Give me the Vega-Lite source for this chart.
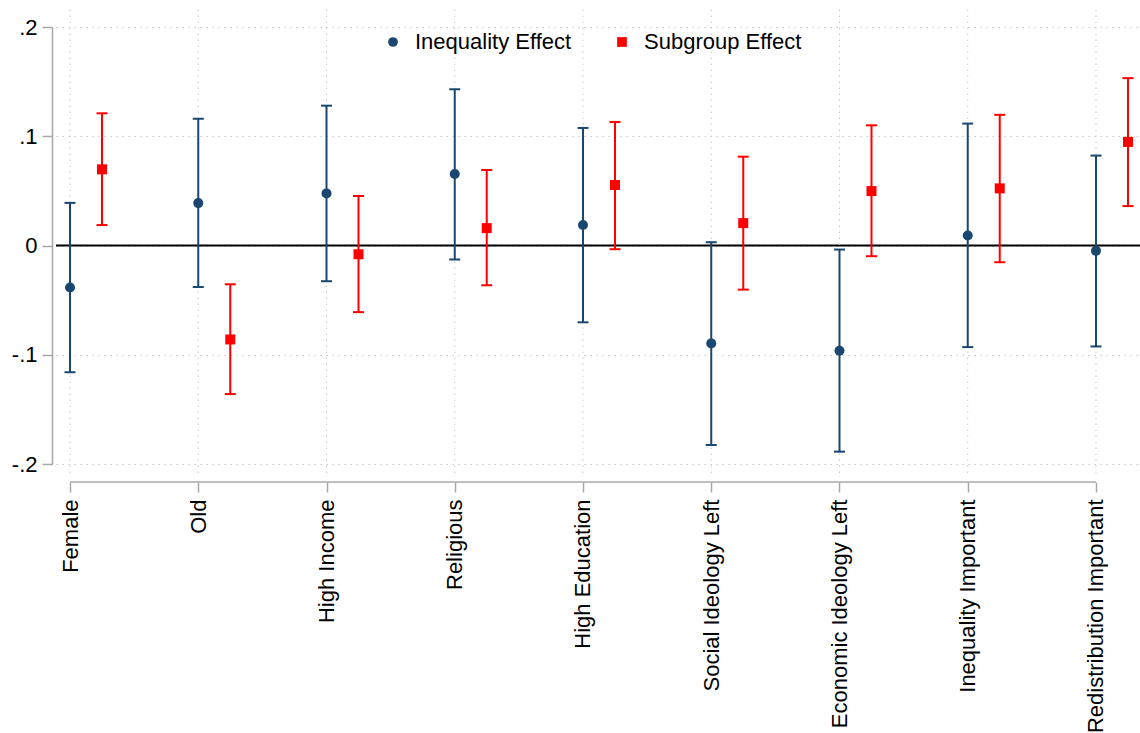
{
  "$schema": "https://vega.github.io/schema/vega-lite/v6.json",
  "autosize": {"type": "none"},
  "padding": {"left": 56, "top": 27, "right": 0, "bottom": 269},
  "width": 1084,
  "height": 437,
  "background": "white",
  "config": {"view": {"stroke": null}, "font": "Liberation Sans"},
  "datasets": {
    "est": [
      {"cat": "Female", "series": "Inequality Effect", "est": -0.0385, "lo": -0.116, "hi": 0.039},
      {"cat": "Female", "series": "Subgroup Effect", "est": 0.0697, "lo": 0.0187, "hi": 0.121},
      {"cat": "Old", "series": "Inequality Effect", "est": 0.0388, "lo": -0.038, "hi": 0.116},
      {"cat": "Old", "series": "Subgroup Effect", "est": -0.086, "lo": -0.136, "hi": -0.0355},
      {"cat": "High Income", "series": "Inequality Effect", "est": 0.0477, "lo": -0.0327, "hi": 0.128},
      {"cat": "High Income", "series": "Subgroup Effect", "est": -0.008, "lo": -0.061, "hi": 0.0453},
      {"cat": "Religious", "series": "Inequality Effect", "est": 0.0654, "lo": -0.0128, "hi": 0.143},
      {"cat": "Religious", "series": "Subgroup Effect", "est": 0.0159, "lo": -0.0364, "hi": 0.0691},
      {"cat": "High Education", "series": "Inequality Effect", "est": 0.0187, "lo": -0.0703, "hi": 0.1076},
      {"cat": "High Education", "series": "Subgroup Effect", "est": 0.0554, "lo": -0.0034, "hi": 0.113},
      {"cat": "Social Ideology Left", "series": "Inequality Effect", "est": -0.0896, "lo": -0.1826, "hi": 0.003},
      {"cat": "Social Ideology Left", "series": "Subgroup Effect", "est": 0.0205, "lo": -0.0404, "hi": 0.0813},
      {"cat": "Economic Ideology Left", "series": "Inequality Effect", "est": -0.0963, "lo": -0.1887, "hi": -0.0037},
      {"cat": "Economic Ideology Left", "series": "Subgroup Effect", "est": 0.0498, "lo": -0.0098, "hi": 0.110},
      {"cat": "Inequality Important", "series": "Inequality Effect", "est": 0.0092, "lo": -0.093, "hi": 0.1116},
      {"cat": "Inequality Important", "series": "Subgroup Effect", "est": 0.0523, "lo": -0.0153, "hi": 0.1196},
      {"cat": "Redistribution Important", "series": "Inequality Effect", "est": -0.0049, "lo": -0.0924, "hi": 0.0823},
      {"cat": "Redistribution Important", "series": "Subgroup Effect", "est": 0.0948, "lo": 0.0361, "hi": 0.1532}
    ]
  },
  "data": {"name": "est"},
  "layer": [
    {
      "transform": [{"filter": "datum.cat == 'Female' && datum.series == 'Inequality Effect'"}],
      "mark": {"type": "rule", "color": "black", "strokeWidth": 2},
      "encoding": {
        "y": {"datum": 0, "type": "quantitative", "scale": {"domain": [-0.2, 0.2], "nice": false, "zero": false}}
      }
    },
    {
      "encoding": {
        "x": {
          "field": "cat",
          "type": "nominal",
          "sort": null,
          "scale": {
            "type": "point",
            "domain": ["Female", "Old", "High Income", "Religious", "High Education", "Social Ideology Left", "Economic Ideology Left", "Inequality Important", "Redistribution Important"],
            "padding": 0.2262,
            "align": 0.2414
          },
          "axis": {
            "title": null,
            "labelAngle": -90,
            "labelFontSize": 22,
            "labelFont": "Liberation Sans",
            "labelColor": "black",
            "labelPadding": 7,
            "labelLimit": 0,
            "tickSize": 10,
            "tickColor": "#a8a8a8",
            "tickWidth": 1.5,
            "domain": false,
            "grid": false,
            "offset": 18
          }
        }
      },
      "layer": [
        {
          "transform": [{"filter": "datum.series == 'Inequality Effect'"}],
          "mark": {"type": "rule", "color": "#c8c8c8", "strokeWidth": 1, "strokeDash": [1.5, 4.5]},
          "encoding": {
            "y": {"datum": 0.216, "type": "quantitative"},
            "y2": {"datum": -0.21}
          }
        },
        {
          "transform": [{"filter": "datum.cat == 'Female' && datum.series == 'Inequality Effect'"}],
          "mark": {"type": "rule", "color": "#a8a8a8", "strokeWidth": 1.5},
          "encoding": {
            "x2": {"datum": "Redistribution Important"},
            "y": {"datum": -0.2165, "type": "quantitative"}
          }
        },
        {
          "mark": {"type": "rule", "strokeWidth": 2},
          "encoding": {
            "xOffset": {"field": "series", "type": "nominal", "scale": {"type": "point", "domain": ["Inequality Effect", "Subgroup Effect"], "range": [0, 32], "padding": 0}},
            "y": {"field": "lo", "type": "quantitative"},
            "y2": {"field": "hi"},
            "color": {"field": "series", "type": "nominal", "scale": {"domain": ["Inequality Effect", "Subgroup Effect"], "range": ["#1a476f", "#ff0000"]}}
          }
        },
        {
          "mark": {"type": "tick", "thickness": 2, "size": 11, "opacity": 1},
          "encoding": {
            "xOffset": {"field": "series", "type": "nominal", "scale": {"type": "point", "domain": ["Inequality Effect", "Subgroup Effect"], "range": [0, 32], "padding": 0}},
            "y": {"field": "lo", "type": "quantitative"},
            "color": {"field": "series", "type": "nominal", "scale": {"domain": ["Inequality Effect", "Subgroup Effect"], "range": ["#1a476f", "#ff0000"]}}
          }
        },
        {
          "mark": {"type": "tick", "thickness": 2, "size": 11, "opacity": 1},
          "encoding": {
            "xOffset": {"field": "series", "type": "nominal", "scale": {"type": "point", "domain": ["Inequality Effect", "Subgroup Effect"], "range": [0, 32], "padding": 0}},
            "y": {"field": "hi", "type": "quantitative"},
            "color": {"field": "series", "type": "nominal", "scale": {"domain": ["Inequality Effect", "Subgroup Effect"], "range": ["#1a476f", "#ff0000"]}}
          }
        },
        {
          "mark": {"type": "point", "filled": true, "opacity": 1, "size": 100},
          "encoding": {
            "xOffset": {"field": "series", "type": "nominal", "scale": {"type": "point", "domain": ["Inequality Effect", "Subgroup Effect"], "range": [0, 32], "padding": 0}},
            "y": {
              "field": "est",
              "type": "quantitative",
              "axis": {
                "title": null,
                "values": [-0.2, -0.1, 0, 0.1, 0.2],
                "labelExpr": "datum.value == 0 ? '0' : (datum.value < 0 ? '-' : '') + '.' + round(abs(datum.value) * 10)",
                "labelFontSize": 22,
                "labelFont": "Liberation Sans",
                "labelColor": "black",
                "labelPadding": 5,
                "tickSize": 10,
                "tickColor": "#a8a8a8",
                "tickWidth": 1.5,
                "domainColor": "#a8a8a8",
                "domainWidth": 1.5,
                "offset": 4,
                "grid": true,
                "gridColor": "#c8c8c8",
                "gridWidth": 1,
                "gridDash": [1.5, 4.5]
              }
            },
            "color": {
              "field": "series",
              "type": "nominal",
              "scale": {"domain": ["Inequality Effect", "Subgroup Effect"], "range": ["#1a476f", "#ff0000"]},
              "legend": {"orient": "none", "legendX": 326, "legendY": 4, "direction": "horizontal", "title": null, "labelFontSize": 22, "labelFont": "Liberation Sans", "labelColor": "black", "symbolSize": 95, "labelOffset": 11, "columnPadding": 39, "symbolStrokeWidth": 0}
            },
            "shape": {
              "field": "series",
              "type": "nominal",
              "scale": {"domain": ["Inequality Effect", "Subgroup Effect"], "range": ["circle", "square"]},
              "legend": {"orient": "none", "legendX": 326, "legendY": 4, "direction": "horizontal", "title": null, "labelFontSize": 22, "labelFont": "Liberation Sans", "labelColor": "black", "symbolSize": 95, "labelOffset": 11, "columnPadding": 39, "symbolStrokeWidth": 0}
            }
          }
        }
      ]
    }
  ]
}
